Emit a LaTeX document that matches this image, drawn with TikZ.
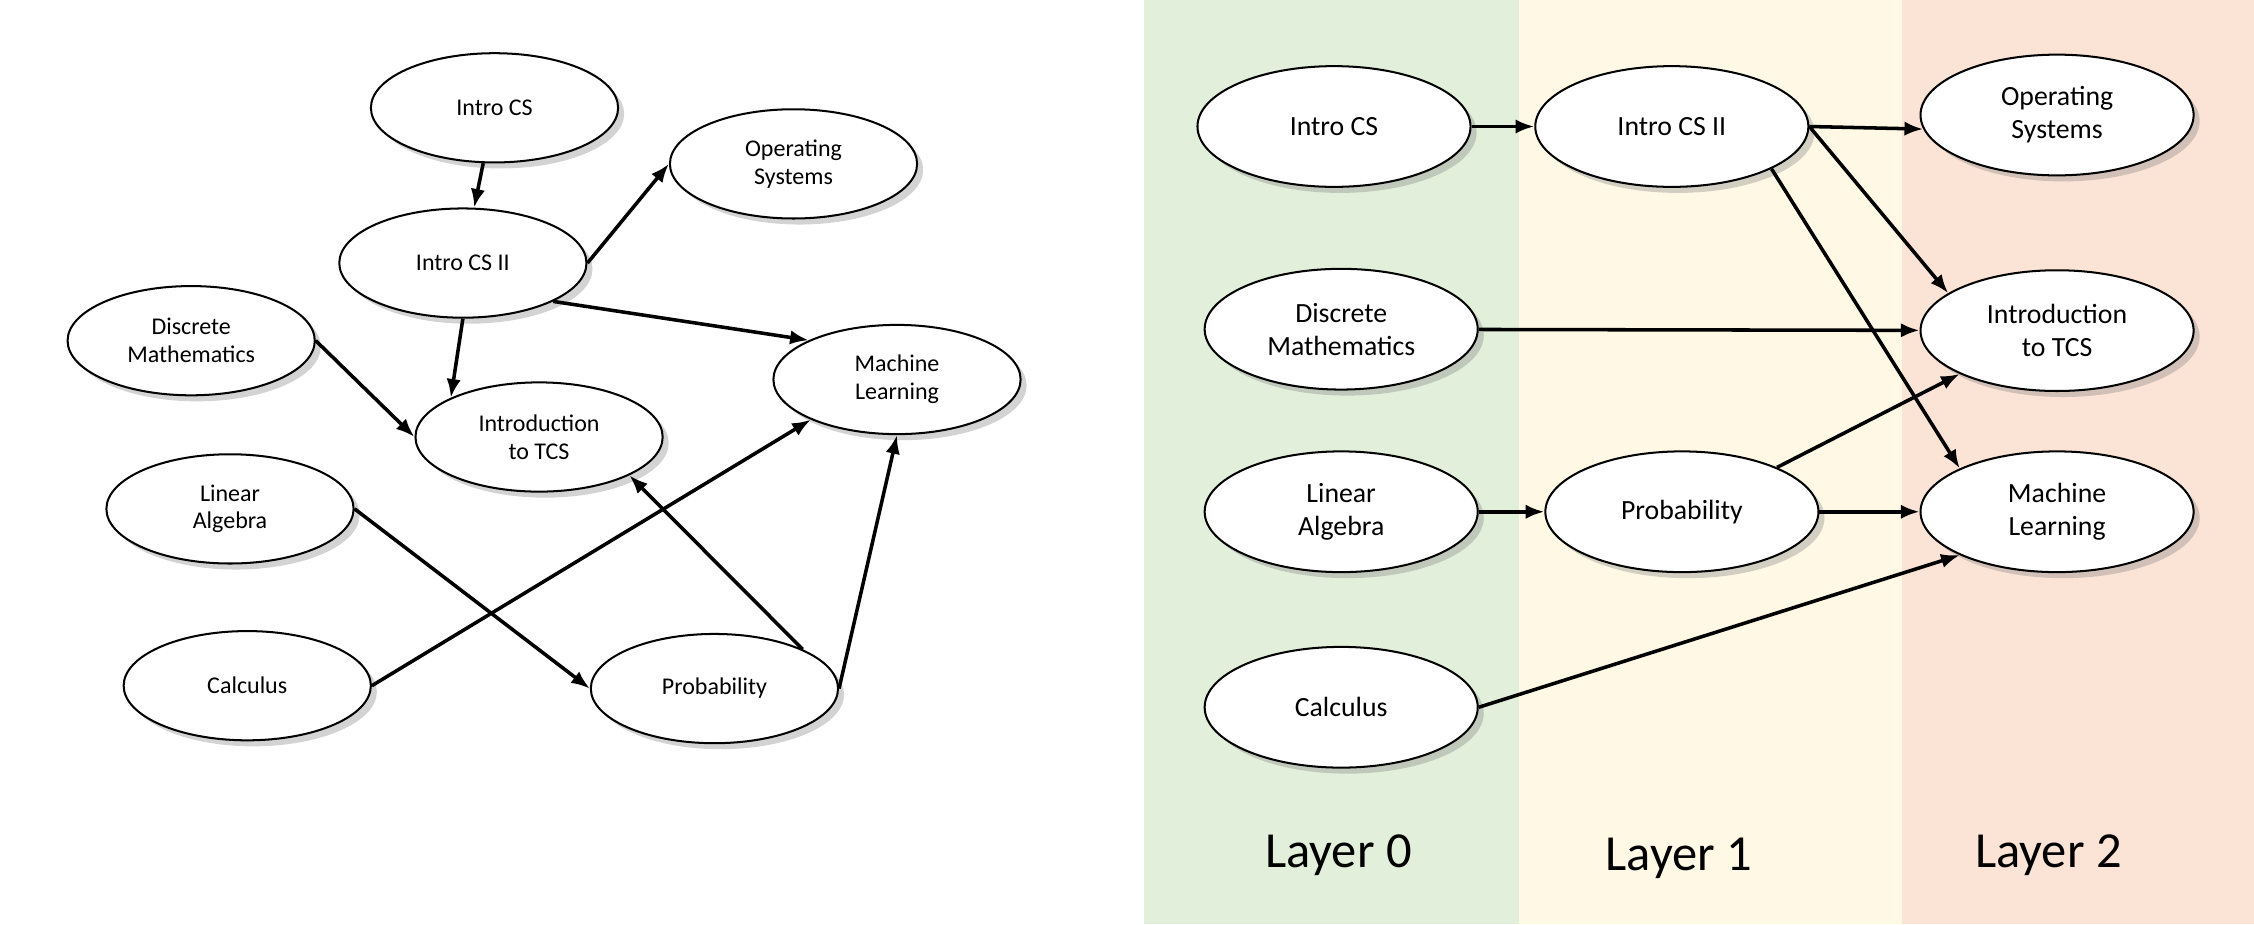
\documentclass[tikz,border=0pt]{standalone}
\usepackage{fontspec}
\setmainfont{Carlito}
\usetikzlibrary{shapes.geometric, arrows.meta, shadows}
\definecolor{layerzero}{HTML}{E2EFDA}
\definecolor{layerone}{HTML}{FFF8E5}
\definecolor{layertwo}{HTML}{FBE3D6}
\tikzset{
  course/.style={ellipse, draw, thick, fill=white, drop shadow={opacity=0.35},
    minimum width=3.44cm, minimum height=1.52cm, inner sep=0pt,
    align=center, font=\fontsize{9.5}{11}\selectfont},
  bigcourse/.style={course, minimum width=3.8cm, minimum height=1.68cm,
    font=\fontsize{11}{13}\selectfont},
  prereq/.style={-{Latex[length=2.6mm,width=2mm]}, line width=1.4pt},
  layerlabel/.style={font=\fontsize{20}{24}\selectfont}
}
\begin{document}
\begin{tikzpicture}[x=0.02cm, y=-0.02cm]
  \useasboundingbox (0,0) rectangle (1568,643);
  % layer panels
  \fill[layerzero] (796,0) rectangle (1057,643);
  \fill[layerone] (1057,0) rectangle (1323,643);
  \fill[layertwo] (1323,0) rectangle (1568,643);

  % left: plain dependency graph
  \node[course] (cs1) at (344,75) {Intro CS};
  \node[course] (os) at (552,114) {Operating\\Systems};
  \node[course] (cs2) at (322,183) {Intro CS II};
  \node[course] (dm) at (133,237) {Discrete\\Mathematics};
  \node[course] (ml) at (624,264) {Machine\\Learning};
  \node[course] (tcs) at (375,304) {Introduction\\to TCS};
  \node[course] (la) at (160,354) {Linear\\Algebra};
  \node[course] (calc) at (172,477) {Calculus};
  \node[course] (prob) at (497,479) {Probability};

  \draw[prereq] (cs1) -- (cs2);
  \draw[prereq] (cs2.0) -- (os.180);
  \draw[prereq] (cs2.-23) -- (ml.156);
  \draw[prereq] (cs2.-90) -- (tcs.156);
  \draw[prereq] (dm.0) -- (tcs.180);
  \draw[prereq] (la.0) -- (prob.180);
  \draw[prereq] (calc.0) -- (ml.205);
  \draw[prereq] (prob.24) -- (tcs.-23);
  \draw[prereq] (prob.0) -- (ml.-90);

  % right: the same graph in layers
  \node[bigcourse] (lcs1) at (928,88) {Intro CS};
  \node[bigcourse] (lcs2) at (1163,88) {Intro CS II};
  \node[bigcourse] (los) at (1431,80) {Operating\\Systems};
  \node[bigcourse] (ldm) at (933,229) {Discrete\\Mathematics};
  \node[bigcourse] (ltcs) at (1431,230) {Introduction\\to TCS};
  \node[bigcourse] (lla) at (933,356) {Linear\\Algebra};
  \node[bigcourse] (lprob) at (1170,356) {Probability};
  \node[bigcourse] (lml) at (1431,356) {Machine\\Learning};
  \node[bigcourse] (lcalc) at (933,492) {Calculus};

  \draw[prereq] (lcs1) -- (lcs2);
  \draw[prereq] (lcs2.0) -- (los.186);
  \draw[prereq] (lcs2.0) -- (ltcs.161);
  \draw[prereq] (lcs2.-23) -- (lml.156);
  \draw[prereq] (ldm) -- (ltcs);
  \draw[prereq] (lla) -- (lprob);
  \draw[prereq] (lprob.25) -- (ltcs.204);
  \draw[prereq] (lprob) -- (lml);
  \draw[prereq] (lcalc.0) -- (lml.204);

  \node[layerlabel] (l0) at (931,595) {Layer 0};
  \node[layerlabel] (l1) at (1168,597) {Layer 1};
  \node[layerlabel] (l2) at (1425,595) {Layer 2};
\end{tikzpicture}
\end{document}
